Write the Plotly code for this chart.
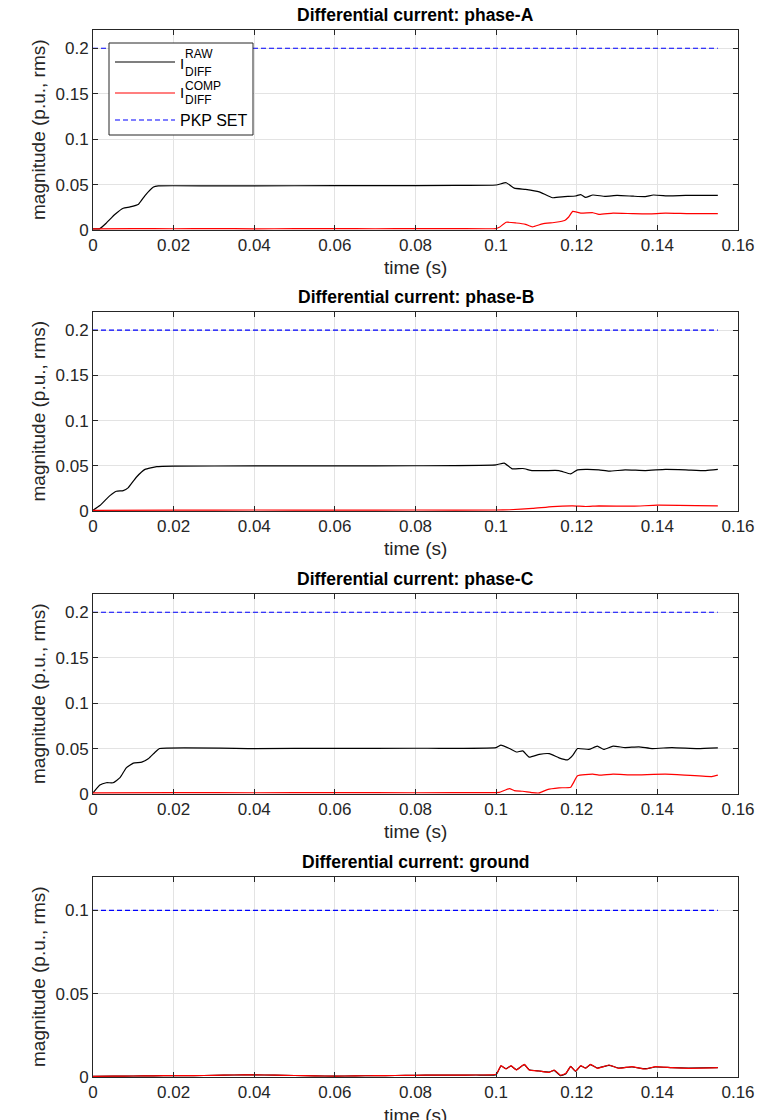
import plotly.graph_objects as go

# ---------------- data ----------------
x_ticks = [0, 0.02, 0.04, 0.06, 0.08, 0.1, 0.12, 0.14, 0.16]
x_tick_text = ["0", "0.02", "0.04", "0.06", "0.08", "0.1", "0.12", "0.14", "0.16"]
y_ticks_phase = [0, 0.05, 0.1, 0.15, 0.2]
y_tick_text_phase = ["0", "0.05", "0.1", "0.15", "0.2"]
y_ticks_ground = [0, 0.05, 0.1]
y_tick_text_ground = ["0", "0.05", "0.1"]

panel_titles = ["Differential current: phase-A", "Differential current: phase-B",
                "Differential current: phase-C", "Differential current: ground"]

pkp_t = [0, 0.155]
pkp_phase = [0.2, 0.2]
pkp_ground = [0.1, 0.1]

# phase A
tA_raw = [0, 0.0017, 0.0033, 0.0054, 0.0075, 0.0092, 0.0113, 0.0129, 0.015, 0.0162, 0.03, 0.05,
          0.07, 0.09, 0.1, 0.1025, 0.1045, 0.1073, 0.1107, 0.114, 0.117, 0.1197, 0.121, 0.1222,
          0.124, 0.127, 0.130, 0.134, 0.137, 0.139, 0.143, 0.147, 0.155]
vA_raw = [0.0012, 0.0015, 0.0076, 0.017, 0.024, 0.0254, 0.0284, 0.0379, 0.0473, 0.0485, 0.0485,
          0.0487, 0.0488, 0.049, 0.0495, 0.052, 0.046, 0.0447, 0.042, 0.0355, 0.0367, 0.0374, 0.039,
          0.0359, 0.0385, 0.037, 0.038, 0.0372, 0.0368, 0.0385, 0.0375, 0.038, 0.038]
tA_comp = [0, 0.01, 0.02, 0.03, 0.04, 0.05, 0.06, 0.07, 0.08, 0.09, 0.1, 0.1008, 0.1025, 0.105,
           0.1073, 0.109, 0.1115, 0.1148, 0.117, 0.118, 0.119, 0.121, 0.124, 0.1255, 0.129, 0.134,
           0.138, 0.142, 0.148, 0.155]
vA_comp = [0.0012, 0.0016, 0.0014, 0.0016, 0.0013, 0.0015, 0.0016, 0.0014, 0.0015, 0.0016, 0.0016,
           0.003, 0.0085, 0.0077, 0.0062, 0.0035, 0.0068, 0.0085, 0.0105, 0.0143, 0.0205, 0.0185,
           0.019, 0.0172, 0.0185, 0.018, 0.0178, 0.0185, 0.018, 0.018]

# phase B
tB_raw = [0, 0.0017, 0.0042, 0.0058, 0.0075, 0.0087, 0.0108, 0.0129, 0.0158, 0.02, 0.04, 0.06,
          0.08, 0.1, 0.102, 0.104, 0.1066, 0.109, 0.1123, 0.1156, 0.1185, 0.1202, 0.1222, 0.1255,
          0.128, 0.132, 0.137, 0.142, 0.147, 0.152, 0.155]
vB_raw = [0.0008, 0.006, 0.017, 0.0218, 0.0226, 0.0256, 0.0376, 0.046, 0.049, 0.0496, 0.0498,
          0.0499, 0.05, 0.051, 0.053, 0.0466, 0.047, 0.0447, 0.0447, 0.0447, 0.041, 0.0455, 0.046,
          0.0455, 0.044, 0.0455, 0.0447, 0.046, 0.0455, 0.0447, 0.046]
tB_comp = [0, 0.02, 0.04, 0.06, 0.08, 0.1, 0.1033, 0.109, 0.114, 0.119, 0.1222, 0.1255, 0.134,
           0.140, 0.155]
vB_comp = [0.0008, 0.001, 0.0011, 0.001, 0.0011, 0.0011, 0.0014, 0.0028, 0.0049, 0.0056, 0.005,
           0.0056, 0.0053, 0.0064, 0.0056]

# phase C
tC_raw = [0, 0.0017, 0.0033, 0.005, 0.0067, 0.0083, 0.01, 0.0121, 0.0137, 0.0154, 0.0165, 0.04,
          0.06, 0.08, 0.1, 0.1012, 0.1033, 0.105, 0.1066, 0.1082, 0.1107, 0.1132, 0.1156, 0.1177,
          0.119, 0.1202, 0.123, 0.1251, 0.1267, 0.129, 0.132, 0.1354, 0.1387, 0.1436, 0.150, 0.155]
vC_raw = [0.0012, 0.0098, 0.0124, 0.0124, 0.018, 0.029, 0.034, 0.035, 0.0387, 0.046, 0.05, 0.05,
          0.0502, 0.0503, 0.0511, 0.0538, 0.05, 0.0462, 0.0474, 0.0406, 0.0436, 0.0444, 0.0398,
          0.0376, 0.0425, 0.05, 0.049, 0.0526, 0.049, 0.0526, 0.0511, 0.0519, 0.05, 0.0511, 0.05,
          0.0508]
tC_comp = [0, 0.02, 0.04, 0.06, 0.08, 0.1, 0.1008, 0.1033, 0.1045, 0.1066, 0.109, 0.1107, 0.1127,
           0.1156, 0.1185, 0.1202, 0.124, 0.1255, 0.129, 0.134, 0.142, 0.1535, 0.155]
vC_comp = [0.0012, 0.0016, 0.0014, 0.0016, 0.0014, 0.0016, 0.0018, 0.006, 0.0038, 0.003, 0.0015,
           0.0012, 0.0049, 0.0068, 0.0075, 0.02, 0.0218, 0.0207, 0.0218, 0.021, 0.0218, 0.0192,
           0.0207]

# ground
tG = [0, 0.005, 0.01, 0.015, 0.02, 0.025, 0.03, 0.035, 0.04, 0.045, 0.05, 0.055, 0.06, 0.065,
      0.07, 0.075, 0.08, 0.085, 0.09, 0.095, 0.1, 0.1012, 0.1025, 0.1037, 0.105, 0.107, 0.1082,
      0.1107, 0.1132, 0.1144, 0.116, 0.1173, 0.1185, 0.1197, 0.121, 0.1222, 0.1234, 0.1251,
      0.128, 0.1304, 0.1337, 0.137, 0.1395, 0.1436, 0.1477, 0.155]
vG_raw = [0.0004, 0.0005, 0.0006, 0.0007, 0.0009, 0.0008, 0.001, 0.0012, 0.0013, 0.0011, 0.0009,
          0.0007, 0.0005, 0.0007, 0.0008, 0.0009, 0.001, 0.0012, 0.0011, 0.0012, 0.0014, 0.0066,
          0.005, 0.0066, 0.0044, 0.0074, 0.0044, 0.0036, 0.003, 0.004, 0.0008, 0.002, 0.0064,
          0.0034, 0.0066, 0.0054, 0.0074, 0.0054, 0.007, 0.0054, 0.006, 0.005, 0.006, 0.0056,
          0.0054, 0.0056]
vG_comp = [0.0004, 0.0005, 0.0006, 0.0007, 0.0009, 0.0008, 0.001, 0.0012, 0.0013, 0.0011, 0.0009,
           0.0007, 0.0005, 0.0007, 0.0008, 0.0009, 0.001, 0.0012, 0.0011, 0.0012, 0.0016, 0.0068,
           0.0048, 0.0068, 0.0042, 0.0076, 0.0042, 0.0036, 0.0028, 0.0042, 0.001, 0.0022, 0.0062,
           0.0036, 0.0068, 0.0052, 0.0076, 0.0052, 0.0072, 0.0052, 0.0062, 0.0048, 0.0062, 0.0056,
           0.0052, 0.0056]

series = [
    (tA_raw, vA_raw, tA_comp, vA_comp, pkp_phase),
    (tB_raw, vB_raw, tB_comp, vB_comp, pkp_phase),
    (tC_raw, vC_raw, tC_comp, vC_comp, pkp_phase),
    (tG, vG_raw, tG, vG_comp, pkp_ground),
]

# ---------------- layout helpers ----------------
W, H = 777, 1120
OFF = 8  # page body margin in the browser
FONT = "Liberation Sans, Arial, sans-serif"
AXC = "#262626"
GRID = "#e3e3e3"
x_dom = [(93 - OFF) / W, (738 - OFF) / W]
panel_px = [(30, 230), (312, 511), (594, 794), (877, 1077)]
y_ranges = [[0, 0.22], [0, 0.22], [0, 0.22], [0, 0.12]]

fig = go.Figure()
annotations = []
shapes = []

for i, (tr, vr, tc, vc, pk) in enumerate(series):
    n = "" if i == 0 else str(i + 1)
    xa, ya = "x" + n, "y" + n
    fig.add_trace(go.Scatter(x=pkp_t, y=pk, mode="lines", xaxis=xa, yaxis=ya, showlegend=False,
                             line=dict(color="#0000ff", width=1.1, dash="5px,3px")))
    fig.add_trace(go.Scatter(x=tr, y=vr, mode="lines", xaxis=xa, yaxis=ya, showlegend=False,
                             line=dict(color="#000000", width=1.2, shape="spline", smoothing=0.4)))
    fig.add_trace(go.Scatter(x=tc, y=vc, mode="lines", xaxis=xa, yaxis=ya, showlegend=False,
                             line=dict(color="#ff0000", width=1.2, shape="spline", smoothing=0.4)))
    top, bot = panel_px[i]
    yt = y_ticks_ground if i == 3 else y_ticks_phase
    ytt = y_tick_text_ground if i == 3 else y_tick_text_phase
    common = dict(showline=True, linecolor=AXC, linewidth=1, mirror="ticks", ticks="inside",
                  ticklen=5, tickcolor=AXC, showgrid=True, gridcolor=GRID, gridwidth=1,
                  zeroline=False, automargin=False,
                  tickfont=dict(family=FONT, size=17, color=AXC))
    fig.update_layout(**{
        "xaxis" + n: dict(domain=x_dom, range=[0, 0.16], anchor=ya, tickvals=x_ticks,
                          ticktext=x_tick_text, **common),
        "yaxis" + n: dict(domain=[1 - (bot - OFF) / H, 1 - (top - OFF) / H], range=y_ranges[i],
                          anchor=xa, tickvals=yt, ticktext=ytt, **common),
    })
    xd, yd = xa + " domain", ya + " domain"
    annotations.append(dict(text="<b>" + panel_titles[i] + "</b>", xref=xd, yref=yd, x=0.5, y=1,
                            yanchor="bottom", yshift=3, showarrow=False,
                            font=dict(family=FONT, size=17.5, color="#000000")))
    annotations.append(dict(text="time (s)", xref=xd, yref=yd, x=0.5, y=-38 / 200,
                            yanchor="middle", showarrow=False,
                            font=dict(family=FONT, size=19, color=AXC)))
    annotations.append(dict(text="magnitude (p.u., rms)", xref="paper", yref=yd,
                            x=(38 - OFF) / W, y=0.5, xanchor="center", yanchor="middle",
                            textangle=-90, showarrow=False,
                            font=dict(family=FONT, size=19, color=AXC)))

# legend (panel 1), in domain coordinates of panel 1
def dx(px):
    return (px - 93) / 645

def dy(py):
    return (230 - py) / 200

shapes.append(dict(type="rect", xref="x domain", yref="y domain", x0=dx(109), x1=dx(253),
                   y0=dy(135), y1=dy(43), line=dict(color=AXC, width=1), fillcolor="white",
                   layer="above"))
legend_lines = [(62, "#000000", "solid"), (93, "#ff0000", "solid"), (120, "#0000ff", "5px,3px")]
for py, col, dash in legend_lines:
    shapes.append(dict(type="line", xref="x domain", yref="y domain", x0=dx(115), x1=dx(175),
                       y0=dy(py), y1=dy(py), line=dict(color=col, width=1.2, dash=dash),
                       layer="above"))
leg_txt = [("I", 178, 63, 15), ("RAW", 183, 54, 12), ("DIFF", 183, 72, 12),
           ("I", 178, 92, 15), ("COMP", 183, 85.5, 12), ("DIFF", 183, 100, 12),
           ("PKP SET", 178, 120.5, 16)]
for txt, px, py, fs in leg_txt:
    annotations.append(dict(text=txt, xref="x domain", yref="y domain", x=dx(px), y=dy(py),
                            xanchor="left", yanchor="middle", showarrow=False,
                            font=dict(family=FONT, size=fs, color="#000000")))

fig.update_layout(width=W, height=H, margin=dict(l=0, r=0, t=0, b=0, autoexpand=False),
                  paper_bgcolor="white", plot_bgcolor="white",
                  annotations=annotations, shapes=shapes, showlegend=False)

fig.write_html("out.html")
